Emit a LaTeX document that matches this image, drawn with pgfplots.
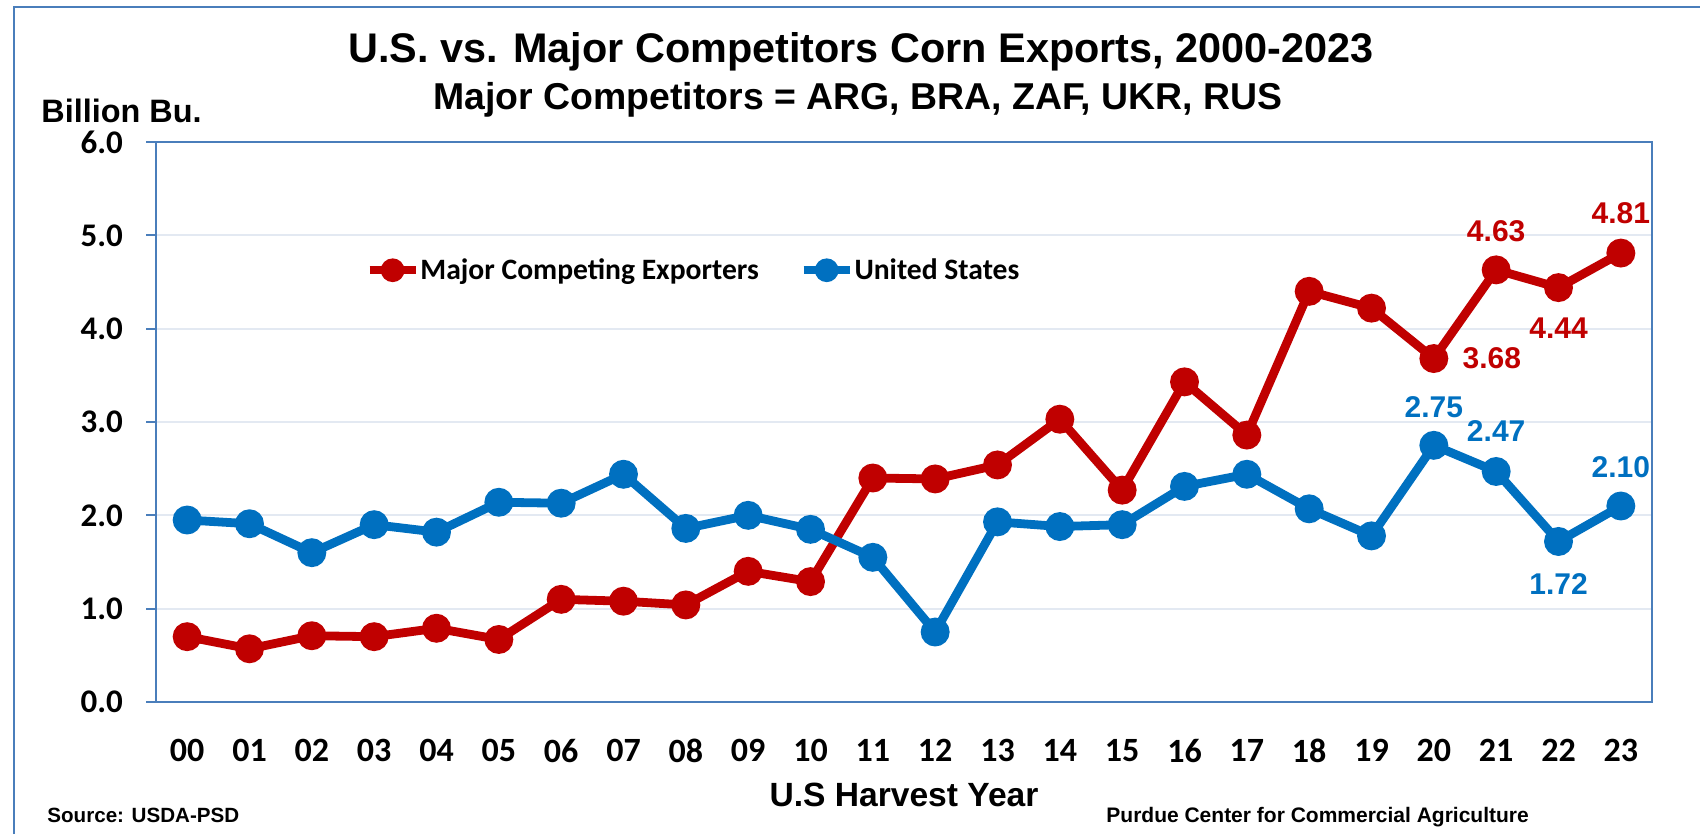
\documentclass[border=0pt]{standalone}
\usepackage{fontspec}
\setmainfont{Liberation Sans}
\newfontfamily\carlito{Carlito}
\usepackage{pgfplots}
\usepackage{pgfplotstable}
\pgfplotsset{compat=1.18}
\definecolor{cred}{HTML}{C00000}
\definecolor{cblue}{HTML}{0070C0}
\definecolor{axblue}{HTML}{4A7EBB}
\definecolor{gridc}{HTML}{E3E9F2}

\pgfplotstableread{
x y
0 0.70
1 0.57
2 0.71
3 0.70
4 0.79
5 0.67
6 1.10
7 1.08
8 1.04
9 1.40
10 1.29
11 2.40
12 2.39
13 2.54
14 3.03
15 2.27
16 3.43
17 2.86
18 4.40
19 4.22
20 3.68
21 4.63
22 4.44
23 4.81
}\compdata

\pgfplotstableread{
x y
0 1.95
1 1.91
2 1.60
3 1.90
4 1.82
5 2.14
6 2.13
7 2.44
8 1.86
9 2.00
10 1.85
11 1.55
12 0.75
13 1.93
14 1.88
15 1.90
16 2.31
17 2.44
18 2.07
19 1.78
20 2.75
21 2.47
22 1.72
23 2.10
}\usdata

\pgfplotsset{
  lab/.style n args={3}{draw=none, mark=none, forget plot, nodes near coords, point meta=explicit symbolic,
    every node near coord/.append style={font=\bfseries\fontsize{15}{17}\selectfont, text=#1, anchor=center, xshift=#2, yshift=#3}},
}

\begin{document}
\begin{tikzpicture}
\path[use as bounding box] (0,0) rectangle (850pt,-417pt);
\draw[axblue, line width=1pt] (7pt,-417pt) -- (7pt,-3.5pt) -- (850pt,-3.5pt);
\begin{axis}[
  at={(78pt,-351pt)}, anchor=south west,
  scale only axis, width=748pt, height=280pt,
  xmin=-0.5, xmax=23.5, ymin=0, ymax=6,
  clip=false,
  axis line style={axblue, line width=1pt},
  tick align=outside,
  tick pos=left,
  major tick length=5pt,
  xtick={0,...,23},
  xticklabels={00,01,02,03,04,05,06,07,08,09,10,11,12,13,14,15,16,17,18,19,20,21,22,23},
  xtick style={draw=none},
  extra x ticks={-0.5,0.5,...,23.5},
  extra x tick labels={},
  extra x tick style={tick style={draw=axblue, line width=1pt}, major tick length=5pt},
  ytick={0,1,2,3,4,5,6},
  ytick style={draw=axblue, line width=1pt},
  ymajorgrids,
  grid style={gridc, line width=1pt},
  /pgf/number format/assume math mode=true,
  yticklabel={\pgfmathprintnumber[fixed, fixed zerofill, precision=1]{\tick}},
  yticklabel style={font=\carlito\bfseries\fontsize{16.5}{19}\selectfont, xshift=-8pt},
  xticklabel style={font=\carlito\bfseries\fontsize{17}{20}\selectfont, yshift=-10pt},
  legend style={at={(0.140,0.771)}, anchor=west, draw=none, fill=none,
    legend columns=2, font=\carlito\bfseries\fontsize{14.8}{17}\selectfont,
    /tikz/every even column/.append style={column sep=20pt},
    inner sep=0pt, nodes={inner sep=0.5pt}},
  legend cell align=left,
  legend image code/.code={\draw[#1, line width=3.8pt, mark repeat=2, mark phase=2, mark size=4pt] plot coordinates {(0pt,0pt) (11.5pt,0pt) (23pt,0pt)};},
]
\addplot[cred, line width=4.4pt, mark=*, mark size=5pt, mark options={solid}] table[x=x, y=y] {\compdata};
\addlegendentry{Major Competing Exporters}
\addplot[cblue, line width=4.4pt, mark=*, mark size=5pt, mark options={solid}] table[x=x, y=y] {\usdata};
\addlegendentry{United States}

\addplot[lab={cred}{29pt}{0pt}] coordinates {(20,3.68) [3.68]};
\addplot[lab={cred}{0pt}{19.5pt}] coordinates {(21,4.63) [4.63]};
\addplot[lab={cred}{0pt}{-20.5pt}] coordinates {(22,4.44) [4.44]};
\addplot[lab={cred}{0pt}{20pt}] coordinates {(23,4.81) [4.81]};
\addplot[lab={cblue}{0pt}{19pt}] coordinates {(20,2.75) [2.75]};
\addplot[lab={cblue}{0pt}{20pt}] coordinates {(21,2.47) [2.47]};
\addplot[lab={cblue}{0pt}{-21.5pt}] coordinates {(22,1.72) [1.72]};
\addplot[lab={cblue}{0pt}{19.5pt}] coordinates {(23,2.10) [2.10]};
\end{axis}
\node[anchor=base, font=\bfseries\fontsize{20.7}{24}\selectfont] at (430.5pt,-31.5pt) {U.S. vs. Major Competitors Corn Exports, 2000-2023};
\node[anchor=base, font=\bfseries\fontsize{18.7}{22}\selectfont] at (429pt,-55pt) {Major Competitors = ARG, BRA, ZAF, UKR, RUS};
\node[anchor=base west, inner sep=0pt, font=\bfseries\fontsize{16.2}{19}\selectfont] at (20.5pt,-61.5pt) {Billion Bu.};
\node[anchor=base, font=\bfseries\fontsize{16.8}{20}\selectfont] at (452pt,-403pt) {U.S Harvest Year};
\node[anchor=base west, inner sep=0pt, font=\bfseries\fontsize{10.3}{12}\selectfont] at (23.5pt,-411pt) {Source: USDA-PSD};
\node[anchor=base west, inner sep=0pt, font=\bfseries\fontsize{10.5}{12}\selectfont] at (553pt,-411pt) {Purdue Center for Commercial Agriculture};
\end{tikzpicture}
\end{document}
